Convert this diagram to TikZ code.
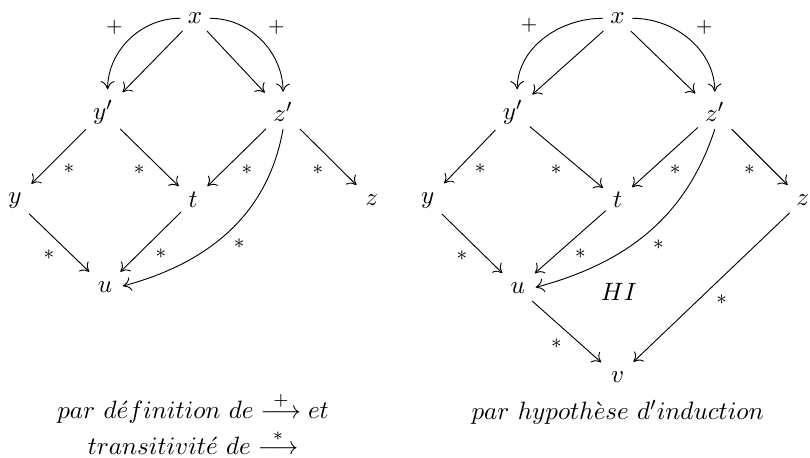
\documentclass[tikz,border=0pt,11pt]{standalone}
\usetikzlibrary{positioning,arrows.meta}

\begin{document}
\begin{tikzpicture}[node distance=1.4cm, on grid, auto, >={Computer Modern Rightarrow[length=3.6pt,width=6pt]}]
  \tikzstyle{obj} = [inner sep=3pt]
  \tikzstyle{arr} = [->, shorten >=1.5pt]
  \tikzstyle{lbl} = [font=\footnotesize, inner sep=2.5pt]
  \tikzstyle{caption} = [align=center, inner sep=0pt]

  \useasboundingbox (0,0) rectangle (12.42,-7.02);

  % left diagram
  \node [obj] (x1) at (2.99,-0.28) {$x$};
  \node [obj, below left=1.44cm and 1.41cm of x1] (y1p) {$y'$};
  \node [obj, below right=1.44cm and 1.35cm of x1] (z1p) {$z'$};
  \node [obj, below left=1.35cm and 1.35cm of y1p] (y1) {$y$};
  \node [obj, below right=1.35cm and 1.38cm of y1p] (t1) {$t$};
  \node [obj, below right=1.35cm and 1.36cm of z1p] (z1) {$z$};
  \node [obj, below right=1.33cm and 1.38cm of y1] (u1) {$u$};
  \node [caption, below=3.42cm of t1] (cap1) {$par\ d\acute{e}finition\ de \stackrel{+}{\longrightarrow} et$\\[2pt] $transitivit\acute{e}\ de \stackrel{*}{\longrightarrow}$};

  \draw[arr] (x1) -- (y1p);
  \draw[arr] (x1) -- (z1p);
  \draw[arr] (x1.west) to[out=180, in=90] node[lbl, swap] {$+$} ([xshift=2pt]y1p.north);
  \draw[arr] (x1.east) to[out=0, in=90] node[lbl] {$+$} (z1p.north);
  \draw[arr] (y1p) -- node[lbl] {$*$} (y1);
  \draw[arr] (y1p) -- node[lbl, swap] {$*$} (t1);
  \draw[arr] (z1p) -- node[lbl] {$*$} (t1);
  \draw[arr] (z1p) -- node[lbl, swap] {$*$} (z1);
  \draw[arr] (y1) -- node[lbl, swap] {$*$} (u1);
  \draw[arr] (t1) -- node[lbl] {$*$} (u1);
  \draw[arr] (z1p.south) to[out=-100, in=15] node[lbl, pos=0.5] {$*$} (u1.east);

  % right diagram
  \node [obj, right=6.48cm of x1] (x2) {$x$};
  \node [obj, below left=1.44cm and 1.61cm of x2] (y2p) {$y'$};
  \node [obj, below right=1.44cm and 1.49cm of x2] (z2p) {$z'$};
  \node [obj, below left=1.35cm and 1.30cm of y2p] (y2) {$y$};
  \node [obj, below=2.79cm of x2] (t2) {$t$};
  \node [obj, below right=1.35cm and 1.35cm of z2p] (z2) {$z$};
  \node [obj, below right=1.35cm and 1.38cm of y2] (u2) {$u$};
  \node [obj, below=2.71cm of t2] (v2) {$v$};
  \node [obj, right=1.55cm of u2, yshift=-0.05cm] (hi) {$HI$};
  \node [caption, below=0.54cm of v2] (cap2) {$par\ hypoth\grave{e}se\ d'induction$};

  \draw[arr] (x2) -- (y2p);
  \draw[arr] (x2) -- (z2p);
  \draw[arr] (x2.west) to[out=180, in=90] node[lbl, swap] {$+$} ([xshift=2pt]y2p.north);
  \draw[arr] (x2.east) to[out=0, in=90] node[lbl] {$+$} (z2p.north);
  \draw[arr] (y2p) -- node[lbl] {$*$} (y2);
  \draw[arr] (y2p) -- node[lbl, swap] {$*$} (t2);
  \draw[arr] (z2p) -- node[lbl] {$*$} (t2);
  \draw[arr] (z2p) -- node[lbl, swap] {$*$} (z2);
  \draw[arr] (y2) -- node[lbl, swap] {$*$} (u2);
  \draw[arr] (t2) -- node[lbl] {$*$} (u2);
  \draw[arr] (z2p.south) to[out=-108, in=15] node[lbl, pos=0.5] {$*$} (u2.east);
  \draw[arr] (u2) -- node[lbl, swap] {$*$} (v2);
  \draw[arr] (z2) -- node[lbl] {$*$} (v2);
\end{tikzpicture}
\end{document}
